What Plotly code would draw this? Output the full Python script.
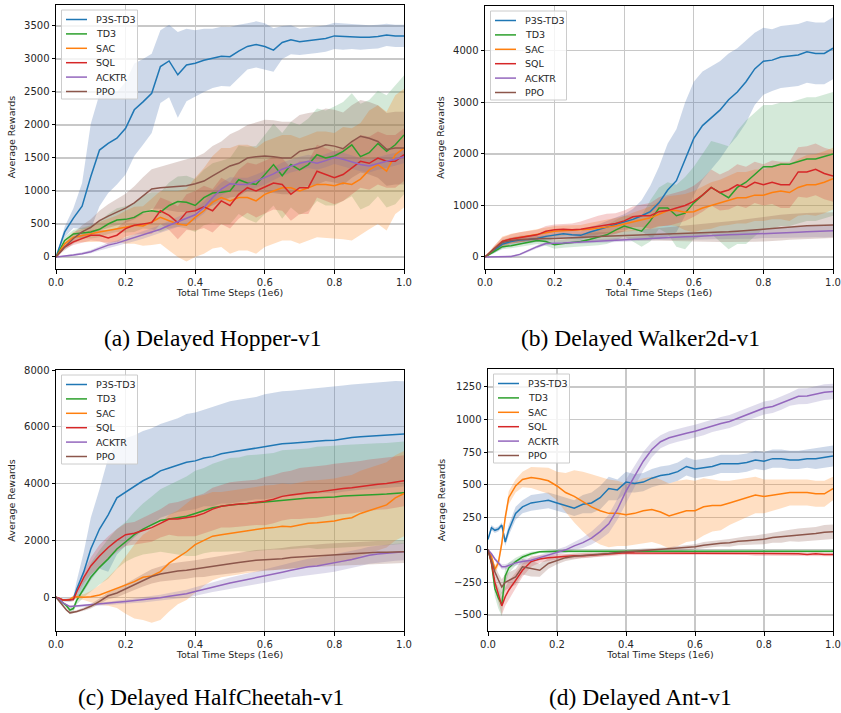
import plotly.graph_objects as go

# ---------------- sample positions (x, in 1e6 steps) ----------------
X_HW = [0, 0.025, 0.05, 0.075, 0.1, 0.125, 0.15, 0.175, 0.2, 0.225, 0.25, 0.275, 0.3, 0.325, 0.35, 0.375,
        0.4, 0.425, 0.45, 0.475, 0.5, 0.525, 0.55, 0.575, 0.6, 0.625, 0.65, 0.675, 0.7, 0.725, 0.75, 0.775,
        0.8, 0.825, 0.85, 0.875, 0.9, 0.925, 0.95, 0.975, 1.0]
X_CA = [0, 0.01, 0.02, 0.03, 0.04, 0.05, 0.06, 0.08,
        0.1, 0.125, 0.15, 0.175, 0.2, 0.225, 0.25, 0.275, 0.3, 0.325, 0.35, 0.375,
        0.4, 0.425, 0.45, 0.475, 0.5, 0.525, 0.55, 0.575, 0.6, 0.625, 0.65, 0.675, 0.7, 0.725, 0.75, 0.775,
        0.8, 0.825, 0.85, 0.875, 0.9, 0.925, 0.95, 0.975, 1.0]

NAMES = ["P3S-TD3", "TD3", "SAC", "SQL", "ACKTR", "PPO"]
LINE_COLORS = ["#1f77b4", "#2ca02c", "#ff7f0e", "#d62728", "#9467bd", "#8c564b"]
BAND_COLORS = ["rgba(76,114,176,0.28)", "rgba(85,168,104,0.25)", "rgba(255,127,14,0.25)",
               "rgba(214,39,40,0.22)", "rgba(129,114,178,0.25)", "rgba(140,86,75,0.25)"]

X_TICKS = [0, 0.2, 0.4, 0.6, 0.8, 1.0]
CAPTIONS = ["(a) Delayed Hopper-v1", "(b) Delayed Walker2d-v1",
            "(c) Delayed HalfCheetah-v1", "(d) Delayed Ant-v1"]

# ---------------- Hopper ----------------
HOP_P3S = [0, 380, 590, 770, 1220, 1620, 1720, 1800, 1950, 2230, 2350, 2480, 2885, 2970, 2760, 2910, 2935, 2980,
           3010, 3040, 3035, 3120, 3190, 3220, 3190, 3135, 3250, 3290, 3260, 3280, 3290, 3310, 3350, 3340, 3340,
           3330, 3330, 3340, 3365, 3350, 3350]
HOP_P3S_SD = [0, 80, 150, 350, 800, 850, 750, 700, 700, 700, 650, 600, 550, 550, 650, 550, 500, 480, 450, 450,
              450, 400, 350, 350, 350, 330, 250, 220, 200, 200, 200, 200, 200, 200, 190, 190, 180, 180, 170, 170, 170]
HOP_TD3 = [0, 250, 350, 370, 380, 420, 500, 560, 570, 600, 680, 700, 680, 780, 840, 830, 780, 900, 970, 980, 1000,
           1170, 1120, 1100, 1250, 1400, 1230, 1400, 1320, 1400, 1550, 1500, 1530, 1600, 1700, 1520, 1580, 1720,
           1600, 1700, 1850]
HOP_TD3_SD = [0, 50, 60, 80, 100, 120, 150, 180, 200, 220, 250, 280, 300, 350, 380, 400, 400, 420, 450, 480, 500,
              520, 550, 580, 600, 620, 650, 650, 680, 700, 700, 720, 750, 750, 780, 800, 800, 800, 850, 900, 900]
HOP_SAC = [0, 200, 300, 320, 350, 380, 400, 430, 450, 480, 470, 530, 600, 550, 500, 480, 600, 700, 830, 900, 850,
           900, 900, 850, 950, 1000, 1050, 1050, 1000, 1050, 1100, 1100, 1080, 1120, 1100, 1180, 1320, 1400, 1300,
           1550, 1650]
HOP_SAC_SD = [0, 50, 80, 100, 120, 150, 180, 200, 250, 280, 300, 350, 400, 450, 500, 550, 600, 650, 700, 750, 800,
              800, 800, 800, 800, 800, 800, 800, 800, 800, 800, 800, 800, 850, 850, 850, 900, 900, 900, 900, 900]
HOP_SQL = [0, 150, 230, 280, 330, 330, 290, 330, 430, 480, 500, 520, 700, 630, 520, 680, 700, 760, 700, 850, 780,
           950, 1050, 1000, 1060, 1120, 1100, 950, 1050, 1050, 1300, 1250, 1200, 1250, 1350, 1450, 1420, 1500, 1450,
           1450, 1550]
HOP_SQL_SD = [0, 30, 50, 60, 80, 90, 100, 110, 120, 140, 150, 170, 200, 220, 250, 270, 300, 320, 330, 350, 350,
              370, 380, 400, 400, 400, 400, 400, 400, 400, 400, 400, 400, 400, 400, 400, 400, 400, 400, 400, 400]
HOP_ACKTR = [0, 10, 30, 50, 80, 130, 180, 210, 250, 290, 330, 380, 420, 480, 530, 580, 640, 750, 900, 1030, 1110,
             1100, 1100, 1150, 1200, 1260, 1330, 1380, 1420, 1450, 1420, 1460, 1510, 1480, 1440, 1400, 1380, 1420,
             1450, 1480, 1520]
HOP_ACKTR_SD = [0, 10, 15, 20, 25, 30, 35, 40, 45, 50, 55, 60, 65, 70, 75, 80, 85, 90, 95, 100, 100, 100, 100,
                100, 100, 100, 100, 100, 100, 100, 100, 100, 100, 100, 100, 100, 100, 100, 100, 100, 100]
HOP_PPO = [0, 150, 280, 380, 450, 550, 620, 680, 740, 820, 930, 1030, 1050, 1060, 1060, 1080, 1110, 1150, 1230,
           1300, 1380, 1420, 1500, 1520, 1530, 1520, 1500, 1500, 1600, 1630, 1650, 1700, 1680, 1640, 1750, 1830,
           1800, 1750, 1630, 1650, 1650]
HOP_PPO_SD = [0, 50, 80, 100, 120, 150, 180, 200, 220, 250, 280, 300, 320, 350, 380, 400, 400, 420, 450, 450, 480,
              500, 500, 520, 550, 550, 550, 550, 550, 550, 550, 550, 550, 550, 550, 550, 550, 550, 550, 550, 550]

# ---------------- Walker2d ----------------
WAL_P3S = [0, 120, 250, 300, 330, 340, 360, 400, 430, 450, 430, 420, 480, 530, 580, 640, 680, 730, 800, 880, 1050,
           1300, 1480, 1900, 2300, 2550, 2700, 2850, 3050, 3200, 3400, 3650, 3800, 3820, 3880, 3900, 3920, 3980,
           3950, 3950, 4050]
WAL_P3S_SD = [0, 50, 80, 80, 80, 80, 80, 80, 80, 80, 80, 80, 100, 100, 120, 130, 150, 200, 300, 500, 700, 900,
              1000, 1100, 1100, 1050, 1000, 950, 900, 850, 800, 700, 650, 600, 600, 600, 600, 600, 600, 600, 600]
WAL_TD3 = [0, 100, 200, 220, 250, 280, 320, 300, 240, 260, 280, 300, 340, 380, 430, 520, 600, 550, 500, 700, 950,
           950, 800, 850, 1050, 1200, 1350, 1250, 1150, 1350, 1450, 1600, 1750, 1750, 1800, 1800, 1850, 1900, 1900,
           1950, 2000]
WAL_TD3_SD = [0, 30, 50, 50, 60, 60, 70, 80, 80, 80, 90, 100, 120, 150, 180, 200, 200, 250, 300, 400, 400, 500,
              600, 700, 700, 800, 900, 950, 1000, 1100, 1200, 1200, 1200, 1200, 1200, 1200, 1200, 1200, 1200, 1200,
              1200]
WAL_SAC = [0, 150, 300, 350, 380, 420, 450, 480, 500, 510, 520, 520, 540, 560, 580, 600, 640, 680, 720, 760, 830,
           900, 900, 870, 880, 950, 1000, 1050, 1100, 1150, 1150, 1200, 1200, 1250, 1280, 1250, 1350, 1400, 1400,
           1450, 1520]
WAL_SAC_SD = [0, 60, 100, 100, 100, 100, 100, 100, 100, 100, 100, 100, 120, 130, 140, 150, 150, 180, 200, 220, 250,
              280, 300, 350, 400, 420, 450, 450, 480, 500, 500, 500, 500, 520, 550, 550, 550, 580, 600, 600, 600]
WAL_SQL = [0, 150, 300, 350, 380, 400, 430, 500, 530, 540, 530, 540, 570, 600, 620, 650, 700, 780, 800, 800, 880,
           900, 950, 1000, 1080, 1200, 1350, 1250, 1300, 1400, 1350, 1450, 1400, 1450, 1400, 1400, 1650, 1650, 1700,
           1620, 1570]
WAL_SQL_SD = [0, 60, 80, 90, 100, 100, 100, 100, 100, 100, 120, 150, 180, 200, 220, 200, 200, 200, 220, 250, 280,
              300, 300, 300, 300, 320, 350, 350, 380, 400, 400, 400, 400, 420, 450, 450, 480, 500, 500, 500, 500]
WAL_ACKTR = [0, 0, 5, 10, 50, 130, 200, 260, 260, 270, 280, 290, 300, 310, 320, 330, 340, 350, 360, 370, 380, 385,
             390, 395, 400, 410, 415, 420, 430, 435, 440, 445, 460, 465, 470, 475, 480, 490, 495, 500, 510]
WAL_ACKTR_SD = [0, 5, 10, 15, 20, 25, 30, 30, 30, 30, 30, 30, 35, 35, 40, 40, 40, 45, 45, 50, 50, 55, 60, 60, 65,
                70, 70, 75, 80, 80, 85, 90, 90, 95, 100, 100, 100, 110, 110, 120, 120]
WAL_PPO = [0, 150, 280, 320, 340, 350, 355, 358, 360, 365, 370, 380, 390, 400, 405, 410, 420, 425, 430, 435, 440,
           445, 450, 455, 460, 465, 470, 480, 490, 500, 510, 525, 540, 555, 570, 585, 600, 605, 610, 615, 620]
WAL_PPO_SD = [0, 40, 50, 50, 50, 50, 60, 60, 60, 70, 70, 70, 80, 80, 80, 90, 90, 100, 100, 110, 120, 130, 140, 150,
              160, 170, 180, 190, 200, 210, 220, 230, 240, 250, 250, 250, 250, 250, 250, 250, 250]

# ---------------- HalfCheetah ----------------
HC_P3S = [0, -50, -100, -100, -100, -50, 300, 900,
          1700, 2400, 2900, 3500, 3700, 3900, 4100, 4250, 4450, 4550, 4650, 4750, 4800, 4900, 4950, 5050, 5100,
          5150, 5200, 5250, 5300, 5350, 5400, 5420, 5450, 5480, 5500, 5520, 5530, 5580, 5620, 5650, 5670, 5700,
          5720, 5740, 5750]
HC_P3S_SD = [0, 30, 50, 60, 60, 80, 300, 700,
             1100, 1400, 2000, 2000, 1900, 1800, 1750, 1700, 1650, 1650, 1650, 1700, 1700, 1700, 1750, 1750, 1800,
             1800, 1800, 1800, 1850, 1850, 1850, 1850, 1850, 1850, 1850, 1850, 1870, 1870, 1870, 1870, 1870, 1870,
             1870, 1870, 1850]
HC_TD3 = [0, -100, -200, -300, -450, -400, -100, 300,
          700, 1050, 1350, 1700, 1950, 2200, 2400, 2550, 2700, 2750, 2800, 2850, 2950, 3050, 3150, 3200, 3250,
          3270, 3300, 3320, 3350, 3380, 3420, 3450, 3480, 3490, 3500, 3510, 3530, 3560, 3580, 3590, 3600, 3620,
          3630, 3650, 3680]
HC_TD3_SD = [0, 20, 40, 60, 80, 100, 150, 300,
             500, 600, 700, 700, 700, 800, 900, 1000, 1100, 1200, 1300, 1400, 1500, 1500, 1550, 1600, 1650, 1650,
             1700, 1700, 1700, 1700, 1750, 1750, 1750, 1750, 1800, 1800, 1800, 1800, 1800, 1800, 1800, 1800, 1800,
             1800, 1800]
HC_SAC = [0, -50, -100, -100, -80, 0, 20, 0,
          20, 80, 200, 320, 420, 550, 700, 750, 900, 1200, 1400, 1600, 1850, 2000, 2150, 2200, 2250, 2300, 2350,
          2400, 2430, 2450, 2500, 2480, 2550, 2600, 2620, 2650, 2680, 2750, 2800, 2950, 3050, 3150, 3250, 3500,
          3650]
HC_SAC_SD = [0, 20, 30, 40, 50, 60, 80, 100,
             200, 350, 500, 700, 1000, 1300, 1500, 1650, 1700, 1700, 1650, 1700, 1700, 1600, 1550, 1500, 1500, 1500,
             1500, 1500, 1500, 1500, 1500, 1500, 1500, 1500, 1500, 1500, 1500, 1500, 1500, 1500, 1500, 1500, 1500,
             1500, 1500]
HC_SQL = [0, -50, -100, -100, -100, -80, 200, 700,
          1100, 1450, 1750, 2000, 2200, 2250, 2350, 2450, 2600, 2750, 2750, 2800, 2850, 2950, 3100, 3200, 3250,
          3280, 3300, 3340, 3380, 3450, 3550, 3600, 3650, 3680, 3700, 3750, 3800, 3830, 3850, 3900, 3950, 3980,
          4000, 4050, 4100]
HC_SQL_SD = [0, 20, 30, 40, 50, 60, 100, 200,
             300, 400, 400, 400, 400, 400, 450, 500, 500, 550, 600, 650, 700, 700, 750, 750, 800, 800, 800, 800,
             850, 850, 850, 850, 900, 900, 900, 900, 900, 900, 900, 900, 900, 900, 900, 900, 900]
HC_ACKTR = [0, -80, -200, -280, -330, -320, -310, -300,
            -280, -250, -220, -180, -150, -120, -100, -60, -20, 30, 80, 120, 200, 280, 350, 420, 500, 560, 620,
            680, 740, 800, 880, 950, 1020, 1070, 1100, 1150, 1200, 1270, 1330, 1400, 1480, 1520, 1550, 1580, 1600]
HC_ACKTR_SD = [0, 10, 20, 30, 40, 40, 40, 40,
               50, 50, 60, 60, 70, 80, 90, 100, 110, 120, 130, 140, 150, 160, 170, 180, 190, 200, 210, 220, 230,
               240, 250, 260, 270, 280, 290, 300, 300, 300, 300, 300, 300, 300, 300, 300, 300]
HC_PPO = [0, -150, -300, -450, -550, -530, -500, -420,
          -320, -150, 50, 150, 300, 450, 600, 730, 820, 880, 920, 950, 1000, 1030, 1080, 1130, 1180, 1220, 1270,
          1300, 1320, 1330, 1350, 1400, 1420, 1440, 1460, 1480, 1500, 1520, 1540, 1560, 1570, 1580, 1580, 1590, 1600]
HC_PPO_SD = [0, 20, 30, 40, 50, 50, 50, 60,
             80, 100, 120, 150, 180, 200, 220, 250, 270, 300, 300, 300, 300, 320, 320, 340, 340, 350, 350, 360, 360,
             370, 380, 380, 390, 390, 400, 400, 400, 400, 400, 400, 400, 400, 400, 400, 400]

# ---------------- Ant ----------------
ANT_P3S = [80, 170, 150, 160, 190, 60, 150, 280,
           330, 360, 370, 380, 360, 340, 320, 350, 360, 400, 470, 460, 520, 510, 520, 550, 570, 580, 600, 640, 620,
           630, 640, 660, 660, 660, 670, 690, 680, 700, 700, 690, 690, 700, 700, 710, 720]
ANT_P3S_SD = [10, 20, 20, 20, 20, 30, 40, 50,
              50, 60, 60, 60, 60, 60, 60, 70, 80, 90, 90, 80, 80, 70, 70, 70, 70, 70, 70, 70, 70, 70, 70, 70, 70, 70,
              70, 70, 70, 70, 70, 70, 70, 70, 80, 80, 80]
ANT_TD3 = [0, -100, -300, -370, -420, -200, -140, -90,
           -55, -30, -15, -10, -10, -10, -10, -10, -10, -10, -10, -10, -10, -10, -10, -10, -10, -10, -10, -10, -10,
           -10, -10, -10, -10, -10, -10, -10, -10, -10, -10, -10, -10, -10, -10, -10, -10]
ANT_TD3_SD = [0, 20, 60, 80, 90, 60, 40, 30,
              20, 15, 10, 10, 10, 10, 10, 10, 10, 10, 10, 10, 10, 10, 10, 10, 10, 10, 10, 10, 10, 10, 10, 10, 10, 10,
              10, 10, 10, 10, 10, 10, 10, 10, 10, 10, 10]
ANT_SAC = [0, -50, -150, -100, 50, 250, 400, 490,
           540, 555, 545, 530, 490, 440, 410, 370, 330, 300, 280, 280, 270, 280, 300, 310, 290, 260, 280, 300, 300,
           330, 340, 340, 360, 380, 400, 420, 410, 420, 430, 440, 440, 440, 430, 430, 470]
ANT_SAC_SD = [0, 20, 30, 30, 40, 40, 50, 50,
              60, 80, 90, 100, 110, 150, 200, 230, 250, 260, 260, 250, 240, 240, 250, 250, 250, 250, 250, 240, 230,
              220, 200, 190, 170, 160, 150, 140, 130, 120, 110, 100, 100, 100, 100, 100, 90]
ANT_SQL = [0, -100, -250, -350, -430, -360, -310, -234,
           -157, -90, -70, -60, -54, -50, -46, -45, -41, -38, -35, -30, -23, -25, -25, -25, -25, -25, -25, -25, -28,
           -30, -30, -30, -30, -25, -25, -30, -30, -30, -30, -30, -30, -35, -30, -35, -35]
ANT_SQL_SD = [0, 30, 50, 60, 70, 70, 70, 60,
              50, 40, 30, 25, 20, 20, 20, 20, 20, 15, 15, 15, 15, 15, 15, 15, 15, 15, 15, 15, 15, 15, 15, 15, 15, 15,
              15, 15, 15, 15, 15, 15, 15, 15, 15, 15, 15]
ANT_ACKTR = [0, -30, -70, -100, -130, -130, -120, -100,
             -90, -80, -60, -40, -20, 0, 30, 55, 90, 140, 200, 310, 450, 560, 680, 770, 830, 860, 880, 895, 910,
             930, 955, 970, 985, 1010, 1040, 1065, 1088, 1100, 1125, 1155, 1178, 1180, 1195, 1210, 1215]
ANT_ACKTR_SD = [0, 5, 10, 15, 20, 20, 20, 20,
                20, 20, 20, 20, 20, 25, 30, 40, 50, 60, 70, 80, 90, 80, 70, 60, 50, 50, 50, 50, 50, 50, 50, 50, 50,
                50, 50, 50, 50, 50, 50, 50, 60, 60, 60, 60, 60]
ANT_PPO = [0, -80, -170, -230, -285, -250, -234, -208,
           -130, -144, -157, -105, -80, -60, -50, -45, -41, -35, -28, -20, -15, -10, -5, -2, 0, 5, 10, 15, 23, 35,
           45, 50, 54, 65, 70, 75, 82, 95, 100, 110, 113, 120, 125, 135, 139]
ANT_PPO_SD = [0, 20, 40, 50, 60, 60, 60, 60,
              60, 60, 50, 40, 30, 25, 20, 15, 15, 15, 15, 15, 15, 15, 15, 15, 15, 15, 20, 20, 20, 25, 25, 25, 30,
              30, 35, 35, 40, 40, 45, 45, 50, 50, 50, 55, 55]

# ---------------- panel setup ----------------
PANELS = [
    dict(x=X_HW, means=[HOP_P3S, HOP_TD3, HOP_SAC, HOP_SQL, HOP_ACKTR, HOP_PPO],
         sds=[HOP_P3S_SD, HOP_TD3_SD, HOP_SAC_SD, HOP_SQL_SD, HOP_ACKTR_SD, HOP_PPO_SD],
         yr=[-182, 3818], yt=[0, 500, 1000, 1500, 2000, 2500, 3000, 3500], px=(56, 404), py=(5, 269)),
    dict(x=X_HW, means=[WAL_P3S, WAL_TD3, WAL_SAC, WAL_SQL, WAL_ACKTR, WAL_PPO],
         sds=[WAL_P3S_SD, WAL_TD3_SD, WAL_SAC_SD, WAL_SQL_SD, WAL_ACKTR_SD, WAL_PPO_SD],
         yr=[-233, 4870], yt=[0, 1000, 2000, 3000, 4000], px=(485, 833), py=(6, 269)),
    dict(x=X_CA, means=[HC_P3S, HC_TD3, HC_SAC, HC_SQL, HC_ACKTR, HC_PPO],
         sds=[HC_P3S_SD, HC_TD3_SD, HC_SAC_SD, HC_SQL_SD, HC_ACKTR_SD, HC_PPO_SD],
         yr=[-1190, 8000], yt=[0, 2000, 4000, 6000, 8000], px=(56, 404), py=(370, 631)),
    dict(x=X_CA, means=[ANT_P3S, ANT_TD3, ANT_SAC, ANT_SQL, ANT_ACKTR, ANT_PPO],
         sds=[ANT_P3S_SD, ANT_TD3_SD, ANT_SAC_SD, ANT_SQL_SD, ANT_ACKTR_SD, ANT_PPO_SD],
         yr=[-623, 1388], yt=[-500, -250, 0, 250, 500, 750, 1000, 1250], px=(488, 833), py=(369, 631)),
]
CAPTION_POS = [(212, 338), (640, 338), (211, 697), (640, 697)]

W, H = 841, 713
fig = go.Figure()
TICKFONT = dict(family="DejaVu Sans", size=10, color="#262626")
AXT = dict(family="DejaVu Sans", size=9.5, color="#262626")

for i, p in enumerate(PANELS):
    xa = "x" if i == 0 else f"x{i+1}"
    ya = "y" if i == 0 else f"y{i+1}"
    x = p["x"]
    for k in range(6):
        m, s = p["means"][k], p["sds"][k]
        hi = [a + b for a, b in zip(m, s)]
        lo = [a - b for a, b in zip(m, s)]
        fig.add_trace(go.Scatter(x=x + x[::-1], y=hi + lo[::-1], fill="toself", fillcolor=BAND_COLORS[k],
                                 line=dict(width=0), mode="lines", showlegend=False, hoverinfo="skip",
                                 xaxis=xa, yaxis=ya))
    for k in range(6):
        fig.add_trace(go.Scatter(x=x, y=p["means"][k], mode="lines", name=NAMES[k], showlegend=False,
                                 line=dict(color=LINE_COLORS[k], width=1.5),
                                 xaxis=xa, yaxis=ya))

layout = dict(width=W, height=H, margin=dict(l=0, r=0, t=0, b=0, autoexpand=False), paper_bgcolor="white",
              plot_bgcolor="white", font=dict(family="DejaVu Sans", color="#262626"), showlegend=False)
shapes, annos = [], []
for i, p in enumerate(PANELS):
    sx = "xaxis" if i == 0 else f"xaxis{i+1}"
    sy = "yaxis" if i == 0 else f"yaxis{i+1}"
    ya = "y" if i == 0 else f"y{i+1}"
    xa = "x" if i == 0 else f"x{i+1}"
    x0, x1 = p["px"]
    y0, y1 = p["py"]
    common = dict(showline=True, mirror=True, linecolor="black", linewidth=1, ticks="outside", ticklen=3.5,
                  tickwidth=1, tickcolor="black", showgrid=True, gridcolor="#c8c8c8", gridwidth=1.3,
                  zeroline=False, tickfont=TICKFONT, automargin=False)
    layout[sx] = dict(common, domain=[x0 / W, x1 / W], anchor=ya, range=[0, 1], tickvals=X_TICKS,
                      ticktext=[f"{v:.1f}" for v in X_TICKS],
                      title=dict(text="Total Time Steps (1e6)", font=AXT, standoff=2))
    layout[sy] = dict(common, domain=[1 - y1 / H, 1 - y0 / H], anchor=xa, range=p["yr"], tickvals=p["yt"],
                      title=dict(text="Average Rewards", font=AXT, standoff=6))

    # legend box (drawn in pixel-derived paper coordinates)
    lx0, ly0 = x0 + 5.5, y0 + 5
    lx1, ly1 = lx0 + 76, ly0 + 89
    shapes.append(dict(type="rect", xref="paper", yref="paper", x0=lx0 / W, x1=lx1 / W,
                       y0=1 - ly1 / H, y1=1 - ly0 / H, line=dict(color="#cccccc", width=1),
                       fillcolor="rgba(255,255,255,0.8)", layer="above"))
    for k, name in enumerate(NAMES):
        ey = ly0 + 9.5 + 14.4 * k
        shapes.append(dict(type="line", xref="paper", yref="paper", x0=(lx0 + 4.5) / W, x1=(lx0 + 25.5) / W,
                           y0=1 - ey / H, y1=1 - ey / H, line=dict(color=LINE_COLORS[k], width=1.5),
                           layer="above"))
        annos.append(dict(x=(lx0 + 32) / W, y=1 - ey / H, xref="paper", yref="paper", text=name,
                          showarrow=False, xanchor="left", yanchor="middle",
                          font=dict(family="DejaVu Sans", size=9.5, color="#262626")))

for (cx, cy), txt in zip(CAPTION_POS, CAPTIONS):
    annos.append(dict(x=cx / W, y=1 - cy / H, xref="paper", yref="paper", text=txt, showarrow=False,
                      font=dict(family="Liberation Serif", size=23.5, color="black"),
                      xanchor="center", yanchor="middle"))
layout["shapes"] = shapes
layout["annotations"] = annos
fig.update_layout(**layout)

fig.write_html("out.html", config={"displayModeBar": False, "staticPlot": True},
               post_script="document.body.style.margin='0';document.body.style.padding='0';")
